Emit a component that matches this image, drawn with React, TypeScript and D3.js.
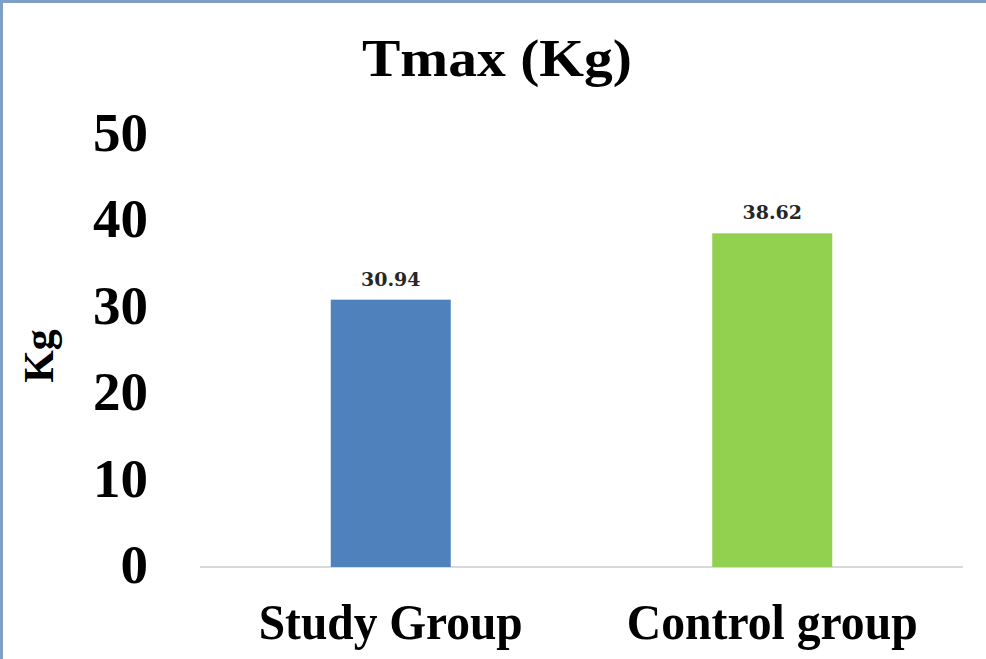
import React from 'react';
import * as d3 from 'd3';

const categories = ['Study Group', 'Control group'];
const values = [30.94, 38.62];
const barColors = ['#4f81bd', '#92d050'];
const yTicks = [0, 10, 20, 30, 40, 50];

const width = 986;
const height = 659;
const serif = '"Liberation Serif", "Times New Roman", serif';

const App: React.FC = () => {
  const x = d3.scaleBand<string>()
    .domain(categories)
    .range([200, 963])
    .padding(0);

  const y = d3.scaleLinear()
    .domain([0, 50])
    .range([567, 135]);

  const barWidth = 120;
  // natural widths of the category labels, condensed a bit like the original
  const labelLengths = [264, 291];

  return (
    <svg
      width={width}
      height={height}
      style={{ position: 'absolute', left: 0, top: 0, background: '#fff' }}
    >
      {/* frame on the top and left edges */}
      <rect x={0} y={0} width={width} height={3} fill="#7e9fc8" />
      <rect x={0} y={0} width={3} height={height} fill="#7e9fc8" />

      {/* title */}
      <text
        x={497}
        y={76}
        textAnchor="middle"
        fontFamily={serif}
        fontWeight="bold"
        fontSize={53}
        textLength={270}
        lengthAdjust="spacingAndGlyphs"
        fill="#000"
      >
        Tmax (Kg)
      </text>

      {/* y tick labels */}
      {yTicks.map(t => (
        <text
          key={t}
          x={148}
          y={y(t) + 16}
          textAnchor="end"
          fontFamily={serif}
          fontWeight="bold"
          fontSize={55}
          fill="#000"
        >
          {t}
        </text>
      ))}

      {/* y axis title */}
      <text
        transform={`translate(53,356) rotate(-90)`}
        textAnchor="middle"
        fontFamily={serif}
        fontWeight="bold"
        fontSize={42}
        fill="#000"
      >
        Kg
      </text>

      {/* baseline */}
      <line
        x1={x.range()[0]}
        x2={x.range()[1]}
        y1={y(0)}
        y2={y(0)}
        stroke="#d9d9d9"
        strokeWidth={2}
      />

      {/* bars and value labels */}
      {categories.map((c, i) => {
        const cx = (x(c) || 0) + x.bandwidth() / 2;
        return (
          <g key={c}>
            <rect
              x={cx - barWidth / 2}
              y={y(values[i])}
              width={barWidth}
              height={y(0) - y(values[i])}
              fill={barColors[i]}
            />
            <text
              x={cx}
              y={y(values[i]) - 14}
              textAnchor="middle"
              fontFamily='"DejaVu Serif", serif'
              fontWeight="bold"
              fontSize={19}
              fill="#262626"
            >
              {values[i].toFixed(2)}
            </text>
            <text
              x={cx}
              y={639}
              textAnchor="middle"
              fontFamily={serif}
              fontWeight="bold"
              fontSize={50}
              textLength={labelLengths[i]}
              lengthAdjust="spacingAndGlyphs"
              fill="#000"
            >
              {c}
            </text>
          </g>
        );
      })}
    </svg>
  );
};

export default App;
